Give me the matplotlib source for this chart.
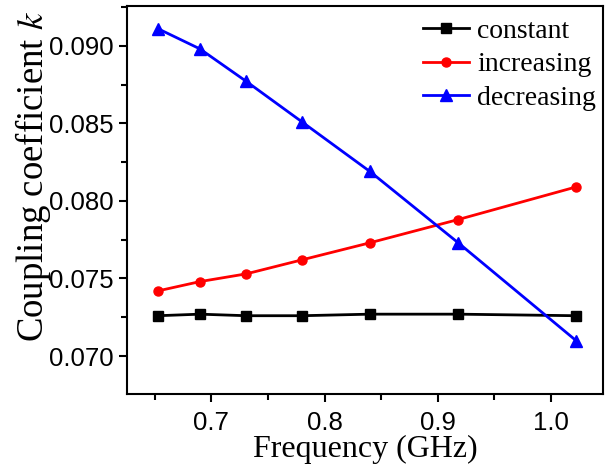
import matplotlib
matplotlib.use("Agg")
import matplotlib.pyplot as plt
from matplotlib.ticker import MultipleLocator

plt.rcParams["mathtext.fontset"] = "stix"

freq = [0.653, 0.690, 0.731, 0.780, 0.840, 0.918, 1.022]
constant = [0.0726, 0.0727, 0.0726, 0.0726, 0.0727, 0.0727, 0.0726]
increasing = [0.0742, 0.0748, 0.0753, 0.0762, 0.0773, 0.0788, 0.0809]
decreasing = [0.0911, 0.0898, 0.0877, 0.0851, 0.0819, 0.0773, 0.0710]

fig = plt.figure(figsize=(6.13, 4.68), dpi=100)
ax = fig.add_axes([0.207, 0.158, 0.777, 0.829])

ax.plot(freq, constant, color="black", marker="s", ms=6.5, lw=2, label="constant")
ax.plot(freq, increasing, color="red", marker="o", ms=6.5, lw=2, label="increasing")
ax.plot(freq, decreasing, color="blue", marker="^", ms=8, lw=2, label="decreasing")

ax.set_xlim(0.6255, 1.046)
ax.set_ylim(0.06755, 0.09256)
ax.xaxis.set_major_locator(MultipleLocator(0.1))
ax.xaxis.set_minor_locator(MultipleLocator(0.05))
ax.yaxis.set_major_locator(MultipleLocator(0.005))
ax.yaxis.set_minor_locator(MultipleLocator(0.0025))
ax.xaxis.set_major_formatter(plt.FuncFormatter(lambda v, p: f"{v:.1f}"))
ax.yaxis.set_major_formatter(plt.FuncFormatter(lambda v, p: f"{v:.3f}"))

for s in ax.spines.values():
    s.set_linewidth(1.5)
ax.tick_params(which="both", direction="out", width=1.5, top=False, right=False)
ax.tick_params(which="major", length=6, labelsize=18.5)
ax.tick_params(axis="x", which="major", pad=6)
ax.tick_params(which="minor", length=4)
for lab in ax.get_xticklabels() + ax.get_yticklabels():
    lab.set_family("Liberation Sans")

ax.set_xlabel("Frequency (GHz)", family="Liberation Serif", fontsize=23, labelpad=0)
ax.set_ylabel("Coupling coefficient $k$", family="Liberation Serif", fontsize=26.5)
ax.yaxis.set_label_coords(-0.156, 0.562)

leg = ax.legend(loc="upper right", bbox_to_anchor=(1.0, 0.987), frameon=False,
                prop={"family": "Liberation Serif", "size": 20},
                handlelength=1.65, handletextpad=0.3, labelspacing=0.3,
                borderaxespad=0.0, borderpad=0.25)

fig.savefig("out.png", dpi=100)
